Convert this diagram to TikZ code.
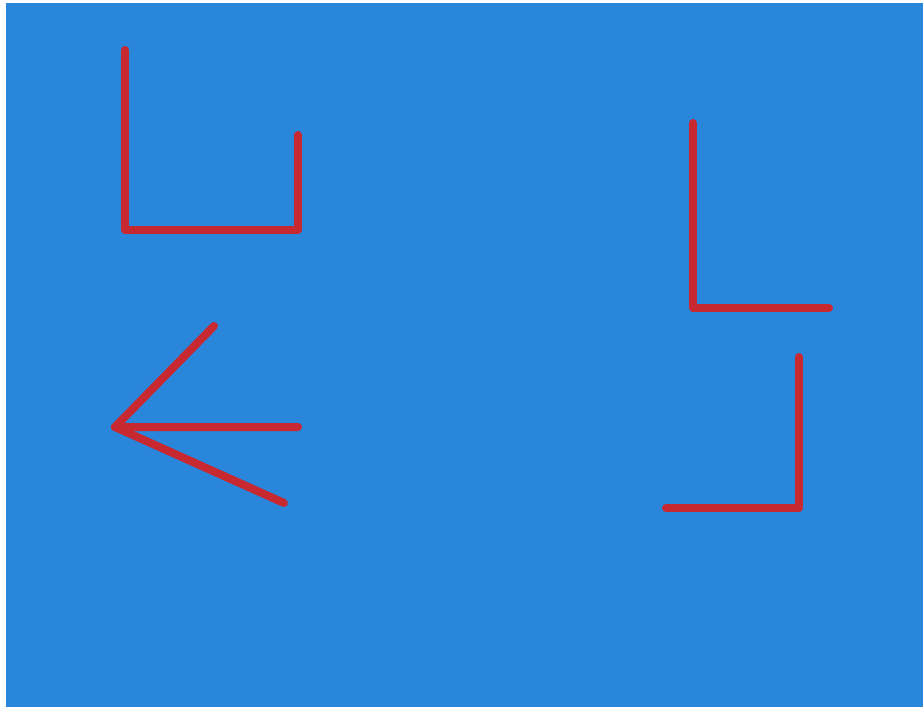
\documentclass[tikz,border=0pt]{standalone}
\definecolor{bg}{RGB}{42,134,218}
\definecolor{stick}{RGB}{200,40,48}
\begin{document}
\begin{tikzpicture}[x=1pt,y=-1pt,
  stickline/.style={draw=stick,line width=8pt,line cap=round,line join=round}]
\useasboundingbox (0,0) rectangle (923,707);
\fill[white] (0,0) rectangle (923,707);
\fill[bg] (6,3) rectangle (923,707);
% U shape
\coordinate (u1) at (125,50);
\coordinate (u2) at (125,230);
\coordinate (u3) at (298,230);
\coordinate (u4) at (298,135);
\draw[stickline] (u1) -- (u2) -- (u3) -- (u4);
% L shape
\coordinate (l1) at (693,123);
\coordinate (l2) at (693,308);
\coordinate (l3) at (829,308);
\draw[stickline] (l1) -- (l2) -- (l3);
% J shape
\coordinate (j1) at (799,357);
\coordinate (j2) at (799,508);
\coordinate (j3) at (666,508);
\draw[stickline] (j1) -- (j2) -- (j3);
% arrow
\coordinate (tip) at (115,427);
\coordinate (a1) at (214,326);
\coordinate (a2) at (298,427);
\coordinate (a3) at (284,503);
\draw[stickline] (a1) -- (tip) -- (a2);
\draw[stickline] (tip) -- (a3);
\end{tikzpicture}
\end{document}
